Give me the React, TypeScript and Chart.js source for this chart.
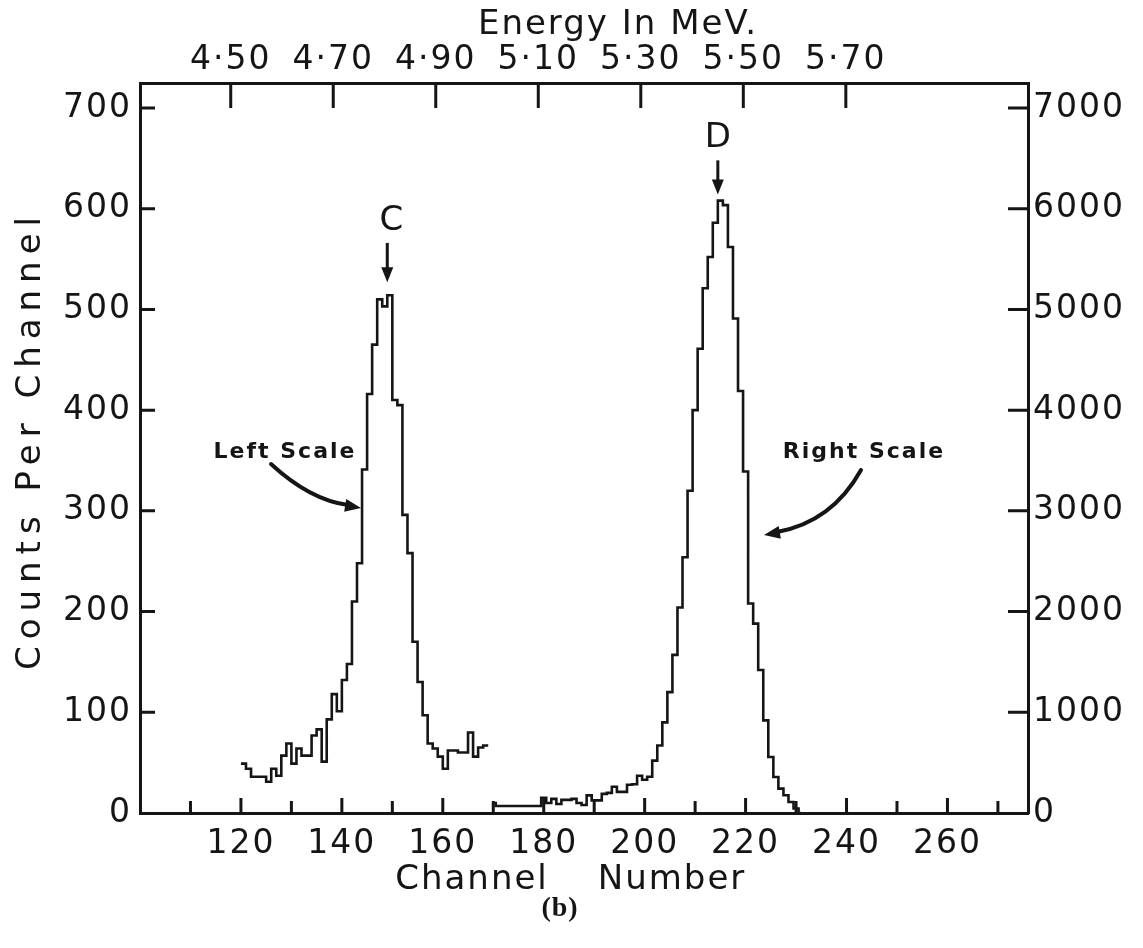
import { useEffect, useRef } from 'react';
import { Chart, registerables } from 'chart.js';

Chart.register(...registerables);

// ---- data ----
// Peak C, left scale, histogram bins [channel, channel+1]
const leftChannels = [
  120, 121, 122, 123, 124, 125, 126, 127, 128, 129,
  130, 131, 132, 133, 134, 135, 136, 137, 138, 139,
  140, 141, 142, 143, 144, 145, 146, 147, 148, 149,
  150, 151, 152, 153, 154, 155, 156, 157, 158, 159,
  160, 161, 162, 163, 164, 165, 166, 167, 168, 169,
];
const leftCounts = [
  49, 44, 36, 36, 36, 31, 44, 37, 57, 69,
  49, 64, 57, 57, 77, 83, 51, 93, 118, 101,
  132, 148, 210, 248, 341, 416, 465, 510, 503, 514,
  410, 405, 296, 258, 170, 130, 97, 69, 64, 56,
  44, 62, 62, 60, 60, 80, 56, 65, 67, 67,
];

// Peak D, right scale, histogram bins centred on the channel
const rightChannels = [
  170, 171, 172, 173, 174, 175, 176, 177, 178, 179,
  180, 181, 182, 183, 184, 185, 186, 187, 188, 189,
  190, 191, 192, 193, 194, 195, 196, 197, 198, 199,
  200, 201, 202, 203, 204, 205, 206, 207, 208, 209,
  210, 211, 212, 213, 214, 215, 216, 217, 218, 219,
  220, 221, 222, 223, 224, 225, 226, 227, 228, 229,
  230, 231,
];
const rightCounts = [
  100, 70, 70, 70, 70, 70, 70, 70, 70, 70,
  150, 100, 140, 90, 130, 130, 140, 100, 80, 175,
  125, 125, 190, 200, 260, 210, 210, 280, 285, 370,
  330, 360, 520, 670, 900, 1200, 1570, 2040, 2540, 3200,
  4000, 4610, 5210, 5520, 5860, 6080, 6035, 5620, 4910, 4190,
  3390, 2080, 1880, 1420, 920, 556, 357, 242, 176, 109,
  44, 0,
];

// ---- axes ----
const channelTicks = [120, 140, 160, 180, 200, 220, 240, 260];
const channelTickMarks = [110, 120, 130, 140, 150, 160, 170, 180, 190, 200, 210, 220, 230, 240, 250, 260, 270];
const leftAxisTicks = [0, 100, 200, 300, 400, 500, 600, 700];
const rightAxisTicks = [0, 1000, 2000, 3000, 4000, 5000, 6000, 7000];
const energyTicks = [4.5, 4.7, 4.9, 5.1, 5.3, 5.5, 5.7];
const energyTickLabels = ['4·50', '4·70', '4·90', '5·10', '5·30', '5·50', '5·70'];

const channelRange = [100, 275.96];
const energyRange = [4.323, 6.0554];
const leftRange = [0, 724.8];
const rightRange = [0, 7248];

const INK = '#151515';
const FONT = "'DejaVu Sans', 'Liberation Sans', sans-serif";

function arrowHead(ctx: CanvasRenderingContext2D, tx: number, ty: number, ang: number, len: number, w: number) {
  const bx = tx - len * Math.cos(ang);
  const by = ty - len * Math.sin(ang);
  const px = (w / 2) * Math.sin(ang);
  const py = (w / 2) * Math.cos(ang);
  ctx.beginPath();
  ctx.moveTo(tx, ty);
  ctx.lineTo(bx + px, by - py);
  ctx.lineTo(bx - px, by + py);
  ctx.closePath();
  ctx.fill();
}

const decor = {
  id: 'decor',
  beforeDraw(chart: any) {
    chart.ctx.letterSpacing = '2px';
  },
  afterDraw(chart: any) {
    const { ctx, chartArea: a, scales } = chart;
    const sx = scales.x;
    const sy = scales.y;
    const sy2 = scales.y2;
    const st = scales.xTop;
    ctx.save();
    ctx.letterSpacing = '0px';
    ctx.strokeStyle = INK;
    ctx.fillStyle = INK;
    ctx.lineWidth = 3;
    ctx.lineCap = 'butt';

    // inward tick marks
    ctx.beginPath();
    channelTickMarks.forEach((v) => {
      const x = sx.getPixelForValue(v);
      const len = channelTicks.includes(v) ? 15 : 12;
      ctx.moveTo(x, a.bottom);
      ctx.lineTo(x, a.bottom - len);
    });
    energyTicks.forEach((v) => {
      const x = st.getPixelForValue(v);
      ctx.moveTo(x, a.top);
      ctx.lineTo(x, a.top + 25);
    });
    leftAxisTicks.forEach((v) => {
      if (v === 0) return;
      const y = sy.getPixelForValue(v);
      ctx.moveTo(a.left, y);
      ctx.lineTo(a.left + 15, y);
    });
    rightAxisTicks.forEach((v) => {
      if (v === 0) return;
      const y = sy2.getPixelForValue(v);
      ctx.moveTo(a.right, y);
      ctx.lineTo(a.right - 20, y);
    });
    ctx.stroke();

    // titles
    ctx.textAlign = 'center';
    ctx.textBaseline = 'middle';
    ctx.font = `34px ${FONT}`;
    ctx.letterSpacing = '2px';
    ctx.fillText('Energy In MeV.', 618, 25);
    ctx.fillText('Channel', 472, 880);
    ctx.fillText('Number', 672, 880);

    ctx.save();
    ctx.translate(31, 440);
    ctx.rotate(-Math.PI / 2);
    ctx.letterSpacing = '7px';
    ctx.fillText('Counts Per Channel', 0, 0);
    ctx.restore();

    ctx.letterSpacing = '1px';
    ctx.font = `bold 28px 'Liberation Serif', serif`;
    ctx.fillText('(b)', 560, 909);

    // peak labels and arrows
    ctx.letterSpacing = '0px';
    ctx.font = `34px ${FONT}`;
    const cx = sx.getPixelForValue(149);
    ctx.fillText('C', cx + 4, sy.getPixelForValue(588));
    ctx.lineWidth = 3;
    ctx.beginPath();
    ctx.moveTo(cx, sy.getPixelForValue(566));
    ctx.lineTo(cx, sy.getPixelForValue(527) - 10);
    ctx.stroke();
    arrowHead(ctx, cx, sy.getPixelForValue(527), Math.PI / 2, 15, 12);

    const dx = sx.getPixelForValue(214.5);
    ctx.fillText('D', dx, sy2.getPixelForValue(6700));
    ctx.beginPath();
    ctx.moveTo(dx, sy2.getPixelForValue(6480));
    ctx.lineTo(dx, sy2.getPixelForValue(6140) - 10);
    ctx.stroke();
    arrowHead(ctx, dx, sy2.getPixelForValue(6140), Math.PI / 2, 15, 12);

    // scale notes with curved arrows
    ctx.font = `bold 22px ${FONT}`;
    ctx.letterSpacing = '2px';
    ctx.fillText('Left Scale', 285, 452);
    ctx.fillText('Right Scale', 864, 452);

    ctx.lineWidth = 4;
    ctx.lineCap = 'round';
    ctx.beginPath();
    ctx.moveTo(271, 464);
    ctx.quadraticCurveTo(310, 500, 348, 505);
    ctx.stroke();
    arrowHead(ctx, 361, 508, Math.atan2(508 - 500, 361 - 312), 16, 13);

    ctx.beginPath();
    ctx.moveTo(861, 470);
    ctx.quadraticCurveTo(832, 522, 777, 532);
    ctx.stroke();
    arrowHead(ctx, 764, 535, Math.atan2(535 - 524, 764 - 830), 16, 13);

    ctx.restore();
  },
};

export default function App() {
  const ref = useRef<HTMLCanvasElement>(null);

  useEffect(() => {
    const canvas = ref.current;
    if (!canvas) return;
    const tickFont = { family: FONT, size: 33 };
    const chart = new Chart(canvas, {
      type: 'line',
      data: {
        datasets: [
          {
            label: 'Peak C (left scale)',
            data: leftChannels.map((c, i) => ({ x: c, y: leftCounts[i] })),
            xAxisID: 'x',
            yAxisID: 'y',
            stepped: true,
            borderColor: INK,
            borderWidth: 2.6,
            pointRadius: 0,
            fill: false,
          },
          {
            label: 'Peak D (right scale)',
            data: rightChannels.map((c, i) => ({ x: c, y: rightCounts[i] })),
            xAxisID: 'x',
            yAxisID: 'y2',
            stepped: 'middle',
            borderColor: INK,
            borderWidth: 2.6,
            pointRadius: 0,
            fill: false,
          },
        ],
      },
      options: {
        responsive: false,
        animation: false,
        devicePixelRatio: 1,
        layout: { padding: 0 },
        plugins: { legend: { display: false }, tooltip: { enabled: false }, title: { display: false } },
        scales: {
          x: {
            type: 'linear',
            position: 'bottom',
            min: channelRange[0],
            max: channelRange[1],
            grid: { display: false, drawTicks: false },
            border: { display: true, color: INK, width: 3 },
            ticks: { font: tickFont, color: INK, padding: 12, maxRotation: 0, autoSkip: false, callback: (v: any) => String(v) },
            afterBuildTicks: (s: any) => { s.ticks = channelTicks.map((v) => ({ value: v })); },
            afterFit: (s: any) => { s.height = 135; },
          },
          xTop: {
            type: 'linear',
            position: 'top',
            min: energyRange[0],
            max: energyRange[1],
            grid: { display: false, drawTicks: false },
            border: { display: true, color: INK, width: 3 },
            ticks: { font: tickFont, color: INK, padding: 3, maxRotation: 0, autoSkip: false, callback: (_v: any, i: number) => energyTickLabels[i] },
            afterBuildTicks: (s: any) => { s.ticks = energyTicks.map((v) => ({ value: v })); },
            afterFit: (s: any) => { s.height = 83; },
          },
          y: {
            type: 'linear',
            position: 'left',
            min: leftRange[0],
            max: leftRange[1],
            grid: { display: false, drawTicks: false },
            border: { display: true, color: INK, width: 3 },
            ticks: { font: tickFont, color: INK, padding: 8, autoSkip: false, callback: (v: any) => String(v) },
            afterBuildTicks: (s: any) => { s.ticks = leftAxisTicks.map((v) => ({ value: v })); },
            afterFit: (s: any) => { s.width = 140; },
          },
          y2: {
            type: 'linear',
            position: 'right',
            min: rightRange[0],
            max: rightRange[1],
            grid: { display: false, drawTicks: false },
            border: { display: true, color: INK, width: 3 },
            ticks: { font: tickFont, color: INK, padding: 5, autoSkip: false, callback: (v: any) => String(v) },
            afterBuildTicks: (s: any) => { s.ticks = rightAxisTicks.map((v) => ({ value: v })); },
            afterFit: (s: any) => { s.width = 115; },
          },
        },
      },
      plugins: [decor],
    } as any);
    return () => chart.destroy();
  }, []);

  return (
    <div style={{ position: 'fixed', left: 0, top: 0, width: 1143, height: 948, background: '#fff' }}>
      <canvas ref={ref} width={1143} height={948} style={{ display: 'block', width: 1143, height: 948 }} />
    </div>
  );
}
